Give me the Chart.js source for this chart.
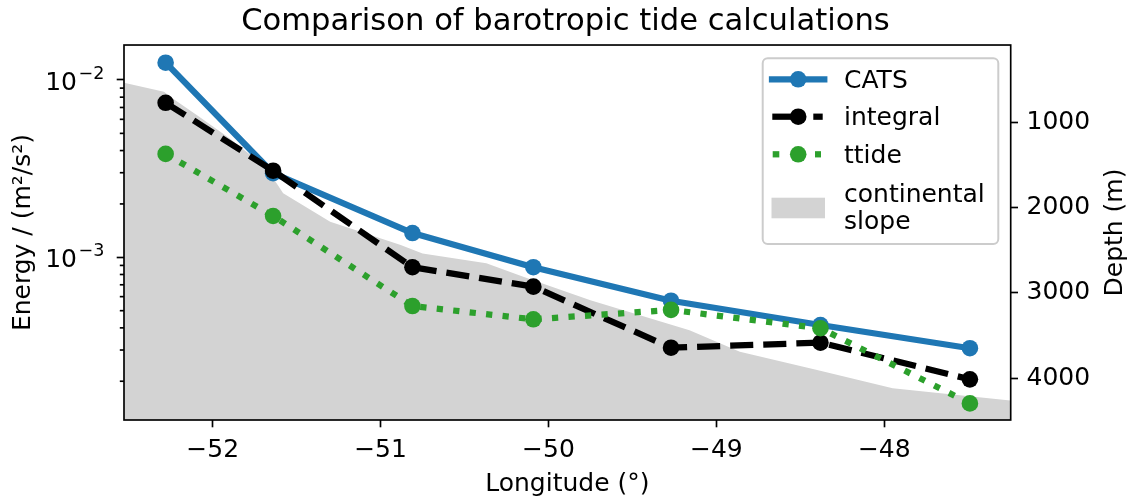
<!DOCTYPE html>
<html><head><meta charset="utf-8">
<script src="https://cdn.jsdelivr.net/npm/chart.js@4.4.1/dist/chart.umd.min.js"></script>
<style>html,body{margin:0;padding:0;background:#fff;}canvas{display:block;}</style>
</head><body>
<canvas id="c" width="1131" height="499"></canvas>
<script>
// ---- data ----
const longitude = [-52.28, -51.64, -50.81, -50.09, -49.27, -48.38, -47.49];
const catsEnergy = [0.01252, 0.00298, 0.001371, 0.000879, 0.000569, 0.000415, 0.000307];
const integralEnergy = [0.00744, 0.00308, 0.000879, 0.000683, 0.000309, 0.00033, 0.000205];
const ttideEnergy = [0.00383, 0.00171, 0.000531, 0.000447, 0.000505, 0.000398, 0.00015];
const slopeLongitude = [-52.53, -52.29, -52.24, -52.08, -51.90, -51.70, -51.64, -51.58, -51.30, -50.88, -50.75, -50.37, -50.15, -49.75, -49.16, -48.86, -48.40, -47.95, -47.25];
const slopeDepth = [536, 641, 719, 934, 1188, 1500, 1653, 1832, 2165, 2438, 2536, 2653, 2810, 3086, 3437, 3689, 3904, 4118, 4259];
const longitudeTicks = [-52, -51, -50, -49, -48];
const energyMajorTicks = [0.001, 0.01];
const energyMinorTicks = [0.0002, 0.0003, 0.0004, 0.0005, 0.0006, 0.0007, 0.0008, 0.0009,
                          0.002, 0.003, 0.004, 0.005, 0.006, 0.007, 0.008, 0.009];
const depthTicks = [1000, 2000, 3000, 4000];
const seriesNames = ['CATS', 'integral', 'ttide', 'continental slope'];
const X_MIN = -52.528, X_MAX = -47.247;
const E_MIN = 0.0001209, E_MAX = 0.01575;
const D_MIN = 93.8, D_MAX = 4489;

const FONT = "'DejaVu Sans', sans-serif";
const FS = 25;
Chart.defaults.font.family = FONT;
Chart.defaults.color = '#000';

const pts = (xs, ys) => xs.map((x, i) => ({x: x, y: ys[i]}));
const BLUE = '#1f77b4', GREEN = '#2ca02c', BLACK = '#000000', GRAY = '#d3d3d3';
const LW = 6.25, TL = 7.3, TW = 1.67, MR = 8.3;

const bgPlugin = {
  id: 'bg',
  beforeDraw(chart) {
    const ctx = chart.ctx; ctx.save(); ctx.fillStyle = '#fff';
    ctx.fillRect(0, 0, chart.width, chart.height); ctx.restore();
  }
};

const framePlugin = {
  id: 'frame',
  afterDatasetsDraw(chart) {
    const ctx = chart.ctx, a = chart.chartArea, y = chart.scales.y;
    ctx.save();
    ctx.strokeStyle = '#000'; ctx.lineWidth = TW;
    energyMinorTicks.forEach(v => {
      const p = y.getPixelForValue(v);
      ctx.beginPath(); ctx.moveTo(a.left, p); ctx.lineTo(a.left - 4.2, p); ctx.stroke();
    });
    ctx.strokeRect(a.left, a.top, a.right - a.left, a.bottom - a.top);
    ctx.fillStyle = '#000'; ctx.textAlign = 'left'; ctx.textBaseline = 'alphabetic';
    energyMajorTicks.forEach(v => {
      const p = y.getPixelForValue(v);
      const exp = Math.round(Math.log10(v));
      ctx.font = FS + 'px ' + FONT; ctx.fillText('10', 45.2, p + 10);
      ctx.font = '17.5px ' + FONT; ctx.fillText('\u2212' + Math.abs(exp), 78.5, p - 1);
    });
    ctx.translate(1115, (a.top + a.bottom) / 2); ctx.rotate(-Math.PI / 2);
    ctx.font = FS + 'px ' + FONT; ctx.textAlign = 'center'; ctx.textBaseline = 'middle';
    ctx.fillText('Depth (m)', 0, 0);
    ctx.restore();
  }
};

function segs(ctx, list, y) {
  list.forEach(s => { ctx.beginPath(); ctx.moveTo(s[0], y); ctx.lineTo(s[1], y); ctx.stroke(); });
}
const legendPlugin = {
  id: 'mplLegend',
  afterDraw(chart) {
    const ctx = chart.ctx;
    ctx.save();
    const bx = 762.7, by = 58.3, bw = 235.6, bh = 185.7, r = 5;
    ctx.beginPath();
    ctx.moveTo(bx + r, by); ctx.lineTo(bx + bw - r, by); ctx.arcTo(bx + bw, by, bx + bw, by + r, r);
    ctx.lineTo(bx + bw, by + bh - r); ctx.arcTo(bx + bw, by + bh, bx + bw - r, by + bh, r);
    ctx.lineTo(bx + r, by + bh); ctx.arcTo(bx, by + bh, bx, by + bh - r, r);
    ctx.lineTo(bx, by + r); ctx.arcTo(bx, by, bx + r, by, r); ctx.closePath();
    ctx.fillStyle = 'rgba(255,255,255,0.8)'; ctx.fill();
    ctx.strokeStyle = '#cccccc'; ctx.lineWidth = 2; ctx.stroke();

    const mx = 798.2;
    const rows = [79.3, 116.7, 154.3];
    ctx.lineWidth = LW;
    ctx.strokeStyle = BLUE; ctx.lineCap = 'square'; segs(ctx, [[772, 824.3]], rows[0]);
    ctx.strokeStyle = BLACK; ctx.lineCap = 'butt'; segs(ctx, [[772.3, 798], [813.3, 822.7]], rows[1]);
    ctx.strokeStyle = GREEN; segs(ctx, [[772.7, 779.3], [815, 821]], rows[2]);
    [[BLUE, rows[0]], [BLACK, rows[1]], [GREEN, rows[2]]].forEach(m => {
      ctx.fillStyle = m[0]; ctx.beginPath(); ctx.arc(mx, m[1], MR, 0, Math.PI * 2); ctx.fill();
    });
    ctx.fillStyle = GRAY; ctx.fillRect(771.5, 197.7, 53.5, 20.6);
    ctx.fillStyle = '#000'; ctx.font = FS + 'px ' + FONT; ctx.textAlign = 'left'; ctx.textBaseline = 'alphabetic';
    ctx.fillText(seriesNames[0], 844, rows[0] + 8.5);
    ctx.fillText(seriesNames[1], 844, rows[1] + 8.5);
    ctx.fillText(seriesNames[2], 844, rows[2] + 8.5);
    const parts = seriesNames[3].split(' ');
    ctx.fillText(parts[0], 844, 202);
    ctx.fillText(parts[1], 844, 228.5);
    ctx.restore();
  }
};

const lineDs = (label, ys, color, dash, order) => ({
  label: label, data: pts(longitude, ys), yAxisID: 'y',
  borderColor: color, backgroundColor: color, borderWidth: LW, borderDash: dash,
  borderCapStyle: 'butt', borderJoinStyle: 'round',
  pointRadius: MR, pointHoverRadius: MR, pointBorderWidth: 0, pointBackgroundColor: color,
  fill: false, tension: 0, order: order
});

new Chart(document.getElementById('c'), {
  type: 'line',
  data: {
    datasets: [
      lineDs(seriesNames[0], catsEnergy, BLUE, [], 3),
      lineDs(seriesNames[1], integralEnergy, BLACK, [23.1, 10], 2),
      lineDs(seriesNames[2], ttideEnergy, GREEN, [6.25, 10.3], 1),
      {
        label: seriesNames[3], data: pts(slopeLongitude, slopeDepth), yAxisID: 'yDepth',
        borderColor: 'rgba(0,0,0,0)', borderWidth: 0, backgroundColor: GRAY,
        pointRadius: 0, pointHoverRadius: 0, fill: {value: D_MAX}, tension: 0, order: 10
      }
    ]
  },
  options: {
    responsive: false, animation: false, devicePixelRatio: 1,
    events: [],
    layout: {padding: 0},
    plugins: {
      legend: {display: false}, tooltip: {enabled: false},
      title: {display: true, text: 'Comparison of barotropic tide calculations',
        font: {size: 30.6, weight: 'normal', family: FONT}, color: '#000', padding: {top: 3.2, bottom: 5.1}}
    },
    scales: {
      x: {
        type: 'linear', position: 'bottom', min: X_MIN, max: X_MAX,
        afterBuildTicks: s => { s.ticks = longitudeTicks.map(v => ({value: v})); },
        ticks: {callback: v => (v < 0 ? '\u2212' : '') + Math.abs(v), font: {size: FS}, color: '#000',
          padding: 8.2, maxRotation: 0, autoSkip: false},
        grid: {drawOnChartArea: false, tickLength: TL, tickWidth: TW, tickColor: '#000'},
        border: {display: false},
        title: {display: true, text: 'Longitude (°)', font: {size: FS}, color: '#000', padding: {top: 0, bottom: 0}},
        afterFit: s => { s.height = 79; }
      },
      y: {
        type: 'logarithmic', position: 'left', min: E_MIN, max: E_MAX,
        afterBuildTicks: s => { s.ticks = energyMajorTicks.map(v => ({value: v})); },
        ticks: {display: false},
        grid: {drawOnChartArea: false, tickLength: TL, tickWidth: TW, tickColor: '#000'},
        border: {display: false},
        title: {display: true, text: 'Energy / (m²/s²)', font: {size: FS}, color: '#000', padding: {top: 8, bottom: 0}},
        afterFit: s => { s.width = 124; }
      },
      yDepth: {
        type: 'linear', position: 'right', reverse: true, min: D_MIN, max: D_MAX,
        afterBuildTicks: s => { s.ticks = depthTicks.map(v => ({value: v})); },
        ticks: {callback: v => String(v), font: {size: FS}, color: '#000', padding: 8.5},
        grid: {drawOnChartArea: false, tickLength: TL, tickWidth: TW, tickColor: '#000'},
        border: {display: false},
        afterFit: s => { s.width = 120.3; }
      }
    }
  },
  plugins: [bgPlugin, framePlugin, legendPlugin]
});
</script>
</body></html>
